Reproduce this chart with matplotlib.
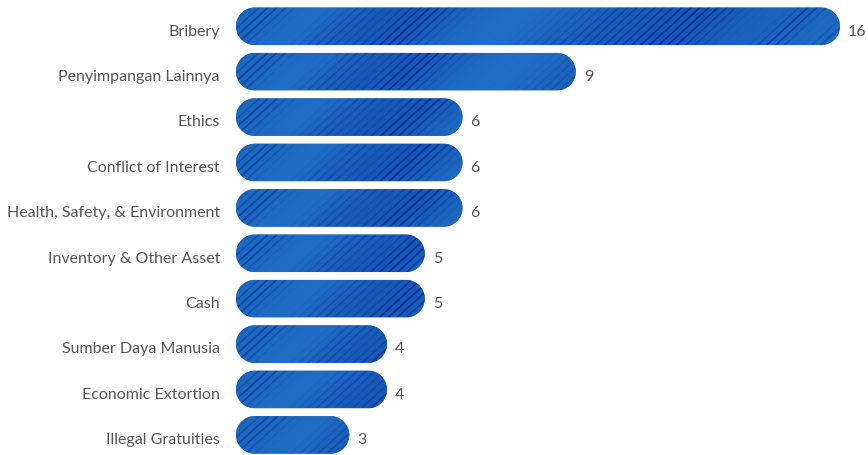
import numpy as np
import matplotlib
matplotlib.use("Agg")
import matplotlib.pyplot as plt
from matplotlib.patches import Polygon

categories = ["Bribery", "Penyimpangan Lainnya", "Ethics", "Conflict of Interest",
              "Health, Safety, & Environment", "Inventory & Other Asset", "Cash",
              "Sumber Daya Manusia", "Economic Extortion", "Illegal Gratuities"]
values = [16, 9, 6, 6, 6, 5, 5, 4, 4, 3]

W, H = 868, 455
fig = plt.figure(figsize=(W / 100, H / 100), dpi=100)
ax_left, ax_right = 236, 868
ax = fig.add_axes([ax_left / W, 0, (ax_right - ax_left) / W, 1])
px_per_unit = 37.75
row_px = 45.4
first_c = 26.3
xmax = (ax_right - ax_left) / px_per_unit
ytop = -first_c / row_px
ybot = (len(categories) - 1) + (H - (first_c + 9 * row_px)) / row_px
ax.set_xlim(0, xmax)
ax.set_ylim(ybot, ytop)
ax.axis("off")

bar_px = 37.5
bar_h = bar_px / row_px
rx = (bar_px / 2) / px_per_unit

base = np.array([30, 106, 192]) / 255
dark = np.array([2, 32, 148]) / 255


def gauss(u, c, w):
    return np.exp(-((u - c) / w) ** 2)


def texture(length_px, height_px):
    ny = int(round(height_px))
    nx = int(round(length_px))
    yy, xx = np.mgrid[0:ny, 0:nx].astype(float)
    u = xx + 1.1 * yy
    env = (0.9 * gauss(u, 35, 20) + 0.5 * gauss(u, 125, 25) + 1.0 * gauss(u, 195, 30)
           + 0.6 * gauss(u, 400, 60) + 0.9 * gauss(u, 470, 35)
           + 1.0 * gauss(u, 575, 15) + 0.6 * gauss(u, 625, 12))
    broad = (0.22 * gauss(u, 175, 60) + 0.22 * gauss(u, 450, 100))
    lines = np.sin(u * np.pi / 9.0) ** 8
    t = np.clip(broad + 0.7 * env * lines, 0, 1)
    light = 0.12 * gauss(u, 90, 25) + 0.15 * gauss(u, 290, 40) + 0.2 * gauss(u, 670, 40)
    img = base[None, None, :] * (1 - t[..., None]) + dark[None, None, :] * t[..., None]
    img = np.clip(img + light[..., None] * np.array([0.1, 0.15, 0.2]), 0, 1)
    return img


bars = ax.barh(range(len(categories)), values, height=bar_h, color="none")
for i, (rect, v) in enumerate(zip(bars, values)):
    rect.set_visible(False)
    x0, y0 = rect.get_x(), rect.get_y()
    w, h = rect.get_width(), rect.get_height()
    yc = y0 + h / 2
    ry = h / 2
    t1 = np.linspace(-np.pi / 2, np.pi / 2, 40)
    right = np.column_stack([x0 + w - rx + rx * np.cos(t1), yc + ry * np.sin(t1)])
    t2 = np.linspace(np.pi / 2, 3 * np.pi / 2, 40)
    left = np.column_stack([x0 + rx + rx * np.cos(t2), yc + ry * np.sin(t2)])
    pill = Polygon(np.vstack([right, left]), closed=True, facecolor=base,
                   edgecolor="none", zorder=1)
    ax.add_patch(pill)
    img = texture(w * px_per_unit, bar_px)
    im = ax.imshow(img, extent=(x0, x0 + w, y0 + h, y0), aspect="auto",
                   interpolation="bilinear", zorder=2)
    im.set_clip_path(pill)
    ax.text(v + 8 / px_per_unit, 9.3 / row_px + i,
            str(v), va="baseline", ha="left",
            fontsize=11.5, color="#555555", family="Lato")
    fig.text(220 / W, 1 - (first_c + 9.3 + i * row_px) / H, categories[i], ha="right",
             va="baseline", fontsize=11.5, color="#555555", family="Lato")

ax.set_ylim(ybot, ytop)
ax.set_xlim(0, xmax)
fig.savefig("out.png", dpi=100)
